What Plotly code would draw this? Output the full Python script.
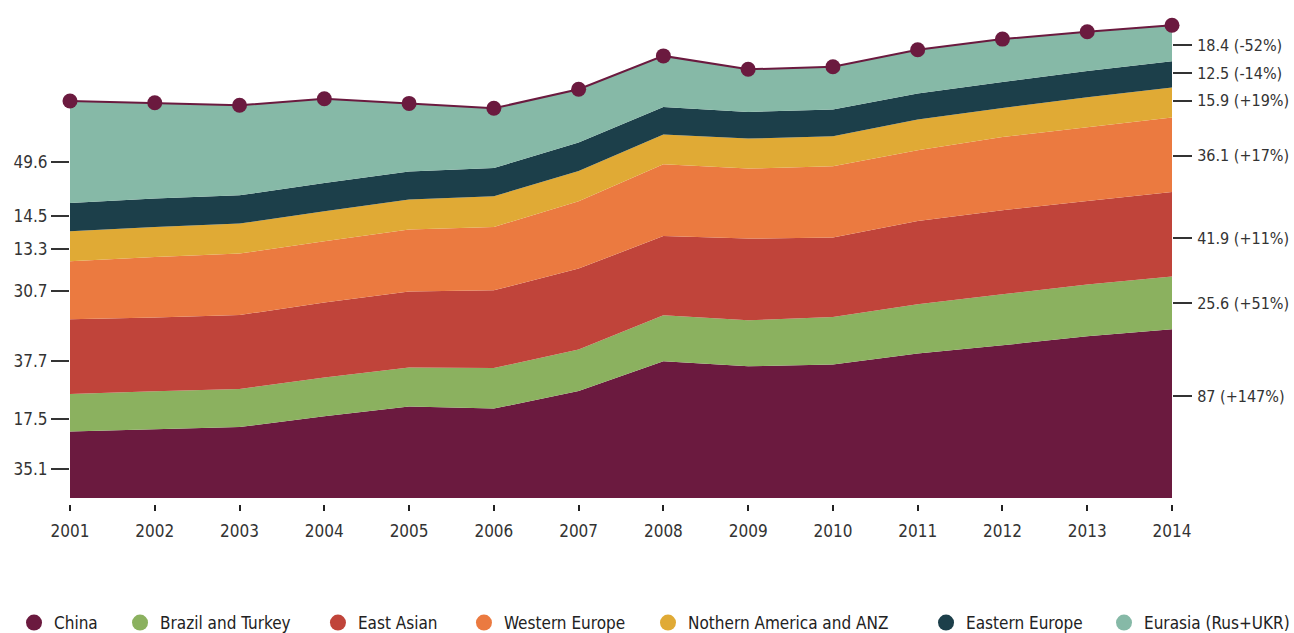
import plotly.graph_objects as go

years = list(range(2001, 2015))

china = [33.2, 34.35, 35.5, 40.85, 45.8, 44.7, 53.5, 68.35, 65.85, 66.7, 72.2, 76.35, 80.85, 84.4]
brazil_turkey = [18.8, 19.0, 19.0, 19.35, 19.4, 20.3, 20.7, 23.0, 23.0, 23.8, 24.65, 25.5, 25.85, 26.3]
east_asian = [37.35, 36.85, 37.0, 37.5, 38.1, 38.85, 40.5, 39.65, 40.85, 39.7, 41.65, 42.0, 41.8, 42.3]
western_europe = [29.0, 30.3, 30.7, 30.65, 30.9, 31.65, 33.65, 35.85, 35.0, 35.65, 35.35, 36.65, 36.85, 37.2]
n_america_anz = [15.0, 15.0, 15.0, 15.0, 15.0, 15.35, 15.15, 14.85, 15.0, 15.0, 15.35, 14.5, 15.0, 15.0]
eastern_europe = [14.15, 14.2, 14.15, 14.15, 14.1, 14.15, 14.2, 13.85, 13.3, 13.35, 13.0, 13.0, 13.15, 13.2]
eurasia = [51.0, 47.9, 45.0, 42.1, 34.0, 29.85, 26.65, 25.5, 21.35, 21.4, 21.9, 21.45, 19.6, 18.0]

series_names = ["China", "Brazil and Turkey", "East Asian", "Western Europe",
                "Nothern America and ANZ", "Eastern Europe", "Eurasia (Rus+UKR)"]
series_values = [china, brazil_turkey, east_asian, western_europe,
                 n_america_anz, eastern_europe, eurasia]
colors = ["#6b1a3f", "#8bb15f", "#c0443a", "#eb7a40", "#e0aa35", "#1c3f4a", "#86b9a7"]

left_labels = ["35.1", "17.5", "37.7", "30.7", "13.3", "14.5", "49.6"]
left_label_pos = [14.3, 39.7, 68.5, 103.5, 124.7, 140.8, 168.0]
right_labels = ["87 (+147%)", "25.6 (+51%)", "41.9 (+11%)", "36.1 (+17%)",
                "15.9 (+19%)", "12.5 (-14%)", "18.4 (-52%)"]
right_label_pos = [50.8, 97.3, 130.0, 171.2, 198.7, 212.3, 226.3]

# legend entry left edges (paper fraction)
legend_x = [-0.0508, 0.0454, 0.2250, 0.3575, 0.5245, 0.7768, 0.9383]

FONT = "DejaVu Sans Condensed, Liberation Sans Narrow, sans-serif"
totals = [sum(v) for v in zip(*series_values)]

fig = go.Figure()
for name, vals, col in zip(series_names, series_values, colors):
    fig.add_trace(go.Scatter(x=years, y=vals, name=name, stackgroup="one", mode="none",
                             fillcolor=col, line=dict(width=0), showlegend=False,
                             hoverinfo="x+y+name"))

fig.add_trace(go.Scatter(x=years, y=totals, mode="lines+markers", name="Total",
                         line=dict(color="#6b1a3f", width=2),
                         marker=dict(size=15, color="#6b1a3f"),
                         cliponaxis=False, showlegend=False))

legend_layouts = {}
for i, (name, col) in enumerate(zip(series_names, colors)):
    lname = "legend" if i == 0 else f"legend{i + 1}"
    fig.add_trace(go.Scatter(x=[None], y=[None], mode="markers", name=name, legend=lname,
                             marker=dict(size=20, color=col, symbol="circle")))
    legend_layouts[lname] = dict(orientation="h", x=legend_x[i], xanchor="left",
                                 y=-0.245, yanchor="middle", bgcolor="rgba(0,0,0,0)",
                                 font=dict(family=FONT, size=17, color="#222222"),
                                 itemsizing="trace")

fig.add_trace(go.Scatter(x=[None], y=[None], yaxis="y2", showlegend=False, mode="markers"))

yr = [-3, 240]
fig.update_layout(
    width=1294, height=633,
    margin=dict(l=70, r=122, t=18, b=129, autoexpand=False),
    paper_bgcolor="white", plot_bgcolor="white",
    font=dict(family=FONT, size=17, color="#333333"),
    xaxis=dict(range=[2001, 2014], tickvals=years, ticktext=[str(y) for y in years],
               showgrid=False, zeroline=False, showline=False, automargin=False,
               ticks="outside", ticklen=6, tickwidth=2, tickcolor="#222222",
               ticklabelstandoff=6),
    yaxis=dict(range=yr, tickvals=left_label_pos, ticktext=left_labels, automargin=False,
               showgrid=False, zeroline=False, showline=False,
               ticks="outside", ticklen=18, tickwidth=1.5, tickcolor="#333333"),
    yaxis2=dict(range=yr, overlaying="y", side="right", tickvals=right_label_pos,
                ticktext=right_labels, showgrid=False, zeroline=False, showline=False,
                automargin=False, ticklabelstandoff=2,
                tickfont=dict(family=FONT, size=16, color="#333333"),
                ticks="outside", ticklen=19, tickwidth=1.5, tickcolor="#333333"),
    showlegend=True,
    **legend_layouts,
)

fig.write_html("out.html", config={"displayModeBar": False},
               post_script="document.body.style.margin='0px';")
